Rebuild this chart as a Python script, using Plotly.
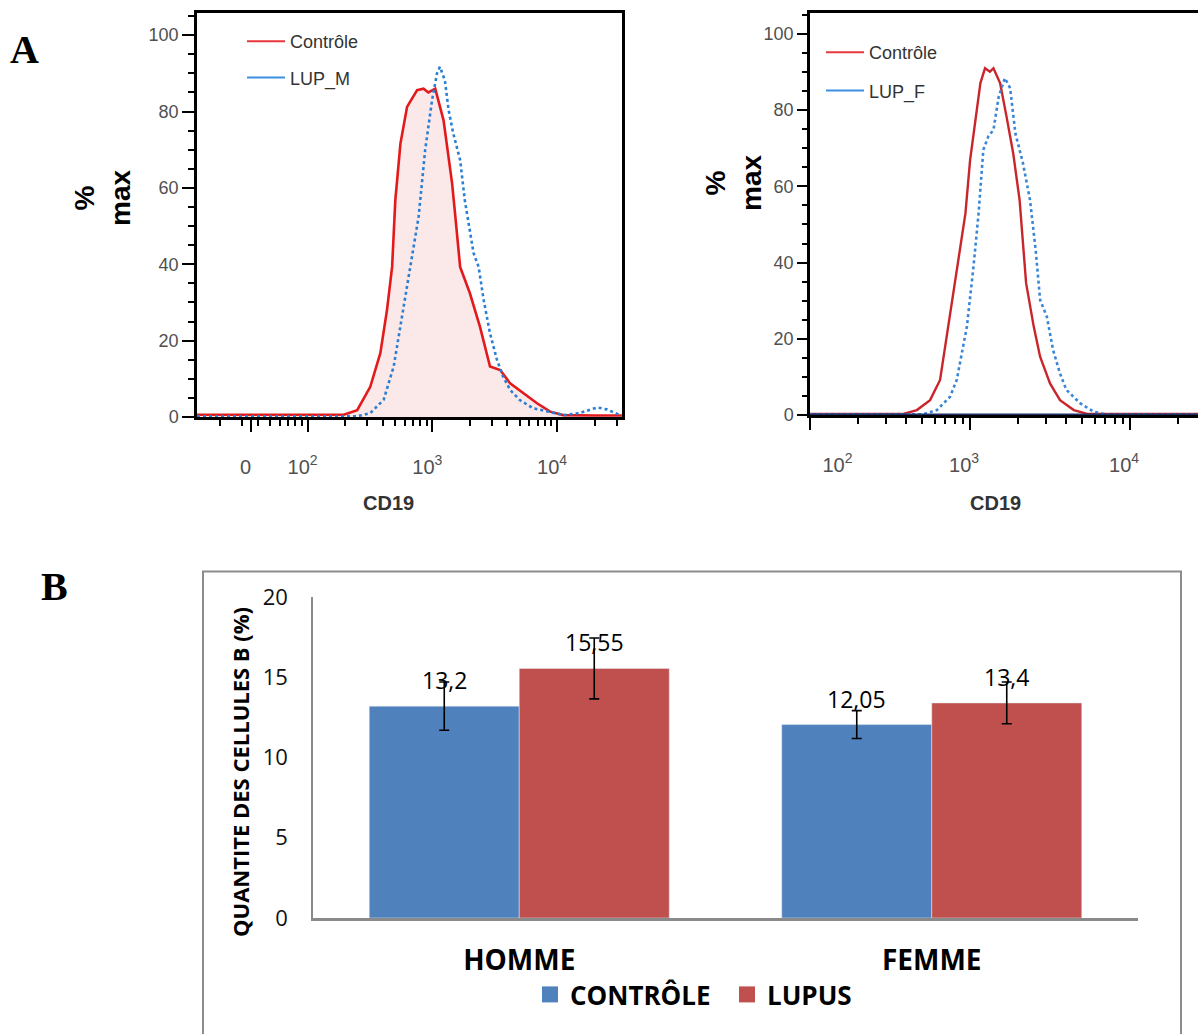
import math
import plotly.graph_objects as go

W, H = 1198, 1034

# ---------------- Panel A: CD19 histograms (% of max) ----------------
# Men: control vs LUP_M
ctrl_m_cd19 = [13, 100, 195, 250, 318, 383, 433, 476, 505, 555,
               627, 755, 850, 930, 1055, 1230, 1440, 1530, 1670, 2000,
               2410, 2900, 3500, 4200, 5350, 6900, 8800, 11200, 20000, 33000]
ctrl_m_pct = [0.6, 0.6, 0.6, 1.8, 7.9, 16.7, 28.0, 39.3, 56.8, 71.6,
              81.2, 85.6, 86.0, 85.0, 86.0, 77.7, 61.2, 52.4, 39.3, 32.4,
              23.6, 13.2, 12.3, 8.8, 6.2, 3.6, 1.4, 0.5, 0.4, 0.4]

lup_m_cd19 = [13, 100, 250, 318, 407, 490, 574, 664, 776, 876,
              995, 1090, 1150, 1260, 1350, 1470, 1670, 1820, 2000, 2140,
              2350, 2580, 2900, 3300, 3700, 4200, 5000, 6400, 8800, 11200,
              15000, 21000, 25000, 30000, 33000]
lup_m_pct = [0.2, 0.2, 0.2, 1.0, 4.5, 13.2, 26.3, 39.3, 52.4, 69.9,
             83.0, 90.0, 91.7, 88.2, 80.4, 74.3, 67.3, 56.8, 48.1, 42.9,
             39.3, 30.6, 21.9, 14.9, 10.5, 7.1, 4.5, 2.3, 1.3, 0.5,
             1.0, 2.5, 2.0, 1.0, 0.3]

# Women: control vs LUP_F
ctrl_f_cd19 = [100, 383, 465, 562, 649, 728, 825, 935, 1000, 1075,
               1160, 1240, 1330, 1400, 1540, 1690, 1860, 2040, 2240, 2500,
               2740, 3160, 3650, 4450, 5400, 27000]
ctrl_f_pct = [0.3, 0.3, 1.3, 3.9, 9.2, 23.2, 38.9, 52.9, 66.9, 77.4,
              87.1, 91.0, 90.1, 91.0, 87.1, 78.3, 68.7, 56.4, 34.6, 23.2,
              15.3, 8.3, 3.9, 1.3, 0.3, 0.3]

lup_f_cd19 = [100, 510, 620, 750, 825, 955, 1050, 1130, 1210, 1300,
              1400, 1510, 1650, 1780, 1920, 2140, 2370, 2570, 2740, 3020,
              3300, 3650, 4000, 4870, 5900, 7000, 27000]
lup_f_pct = [0.2, 0.2, 1.3, 4.8, 9.2, 23.2, 38.9, 52.9, 69.6, 73.1,
             74.8, 83.6, 88.4, 85.8, 73.9, 66.1, 56.4, 43.3, 30.2, 25.8,
             17.1, 10.9, 6.6, 3.1, 0.9, 0.2, 0.2]

hist_yticks = [0, 20, 40, 60, 80, 100]
m_xticks = [35, 100, 1000, 10000]
m_xlabels = ["0", "10<sup>2</sup>", "10<sup>3</sup>", "10<sup>4</sup>"]
f_xticks = [100, 1000, 10000]
f_xlabels = ["\u00a0" * 12 + "10<sup>2</sup>", "10<sup>3</sup>", "10<sup>4</sup>"]

# ---------------- Panel B: B-cell quantity ----------------
groups = ["HOMME", "FEMME"]
controle = [13.2, 12.05]
lupus = [15.55, 13.4]
controle_err = [1.5, 0.87]
lupus_err = [1.9, 1.3]

BLUE_BAR = "#4f81bd"
RED_BAR = "#c0504d"


def px_x(p):
    return p / W


def px_y(p):
    return 1 - p / H


def minor_log(lo, hi):
    vals = []
    for dec in range(0, 6):
        for k in range(2, 10):
            v = k * 10 ** dec
            if lo < v < hi:
                vals.append(v)
    return vals


fig = go.Figure()

# --- left histogram (men) ---
fig.add_trace(go.Scatter(
    x=ctrl_m_cd19, y=ctrl_m_pct, mode="lines", fill="tozeroy",
    fillcolor="rgba(236,150,150,0.22)", line=dict(color="#e31a1c", width=2.6),
    xaxis="x", yaxis="y", showlegend=False, hoverinfo="skip"))
fig.add_trace(go.Scatter(
    x=lup_m_cd19, y=lup_m_pct, mode="lines",
    line=dict(color="#2a7fd4", width=2.6, dash="dot"),
    xaxis="x", yaxis="y", showlegend=False, hoverinfo="skip"))

# --- right histogram (women) ---
fig.add_trace(go.Scatter(
    x=ctrl_f_cd19, y=ctrl_f_pct, mode="lines",
    line=dict(color="#c9262b", width=2.4),
    xaxis="x2", yaxis="y2", showlegend=False, hoverinfo="skip"))
fig.add_trace(go.Scatter(
    x=lup_f_cd19, y=lup_f_pct, mode="lines",
    line=dict(color="#3a86d6", width=2.6, dash="dot"),
    xaxis="x2", yaxis="y2", showlegend=False, hoverinfo="skip"))

# legend entries for histograms (solid line keys)
for name, col, lg, grp in [("Contrôle", "#e8383c", "legend", "a"),
                           ("LUP_M", "#3b8fe0", "legend", "b"),
                           ("Contrôle", "#e8383c", "legend2", "c"),
                           ("LUP_F", "#3b8fe0", "legend2", "d")]:
    fig.add_trace(go.Scatter(
        x=[None], y=[None], mode="lines", name=name,
        line=dict(color=col, width=2), legend=lg, legendgroup=grp,
        xaxis="x" if lg == "legend" else "x2",
        yaxis="y" if lg == "legend" else "y2"))

# --- bar chart ---
fig.add_trace(go.Bar(
    x=groups, y=controle, marker_color=BLUE_BAR, showlegend=False,
    error_y=dict(type="data", array=controle_err, color="black", thickness=1.6, width=5),
    xaxis="x3", yaxis="y3"))
fig.add_trace(go.Bar(
    x=groups, y=lupus, marker_color=RED_BAR, showlegend=False,
    error_y=dict(type="data", array=lupus_err, color="black", thickness=1.6, width=5),
    xaxis="x3", yaxis="y3"))
for name, col in [("CONTRÔLE", BLUE_BAR), ("LUPUS", RED_BAR)]:
    fig.add_trace(go.Scatter(
        x=[None], y=[None], mode="markers", name=name,
        marker=dict(symbol="square", size=19, color=col),
        legend="legend3", xaxis="x3", yaxis="y3"))

hist_tickfont = dict(family="Liberation Sans, Arial, sans-serif", size=18, color="#505050")
axis_common = dict(showline=True, linecolor="black", linewidth=2.5,
                   ticks="outside", tickcolor="black", tickwidth=1.5, automargin=False,
                   showgrid=False, zeroline=False, tickfont=hist_tickfont)

bargap = 0.2727

fig.update_layout(
    width=W, height=H,
    margin=dict(l=0, r=0, t=0, b=0, autoexpand=False),
    paper_bgcolor="white", plot_bgcolor="white",
    font=dict(family="Liberation Sans, Arial, sans-serif", color="#333"),
    barmode="group", bargap=bargap, bargroupgap=0,
    xaxis=dict(type="log", domain=[px_x(197), px_x(622)],
               range=[math.log10(13), 4.52], anchor="y", mirror=True,
               tickmode="array", tickvals=m_xticks, ticktext=m_xlabels, ticklen=12,
               ticklabelstandoff=18, ticklabelshift=-5,
               minor=dict(tickmode="array", tickvals=minor_log(13, 33000),
                          ticks="outside", ticklen=6, tickcolor="black", tickwidth=1.5),
               **{**axis_common, "tickfont": dict(hist_tickfont, size=20)}),
    yaxis=dict(domain=[px_y(417), px_y(13)], range=[0, 105.8], anchor="x", mirror=True,
               tickmode="array", tickvals=hist_yticks, ticklen=12,
               minor=dict(dtick=5, ticks="outside", ticklen=6, tickcolor="black", tickwidth=1.5),
               **axis_common),
    xaxis2=dict(type="log", domain=[px_x(810), 1.0], range=[1.999, 4.425], anchor="y2",
                mirror=True, tickmode="array", tickvals=f_xticks, ticktext=f_xlabels,
                ticklen=12, ticklabelstandoff=18, ticklabelshift=-6,
                minor=dict(tickmode="array", tickvals=minor_log(100, 27000),
                           ticks="outside", ticklen=6, tickcolor="black", tickwidth=1.5),
                **{**axis_common, "tickfont": dict(hist_tickfont, size=20)}),
    yaxis2=dict(domain=[px_y(415), px_y(13)], range=[0, 105.5], anchor="x2",
                tickmode="array", tickvals=hist_yticks, ticklen=10,
                minor=dict(dtick=5, ticks="outside", ticklen=5, tickcolor="black", tickwidth=1.5),
                **axis_common),
    xaxis3=dict(domain=[px_x(313), px_x(1138)], anchor="y3", showline=True, automargin=False,
                linecolor="#8a8a8a", linewidth=2.5, showgrid=False, ticks="",
                tickfont=dict(family="Open Sans, sans-serif", size=28, color="black", weight="bold"),
                ticklabelstandoff=16),
    yaxis3=dict(domain=[px_y(918), px_y(597)], range=[0, 20], dtick=5, anchor="x3",
                showline=True, linecolor="#8a8a8a", linewidth=1.5, showgrid=False,
                zeroline=False, ticks="", automargin=False,
                tickfont=dict(family="Open Sans, sans-serif", size=22, color="#111"),
                ticklabelstandoff=19),
    legend=dict(x=px_x(242), y=px_y(23), xanchor="left", yanchor="top",
                bgcolor="rgba(0,0,0,0)", traceorder="grouped", tracegroupgap=10,
                itemwidth=38, font=dict(size=18, color="#333")),
    legend2=dict(x=px_x(821), y=px_y(34), xanchor="left", yanchor="top",
                 bgcolor="rgba(0,0,0,0)", traceorder="grouped", tracegroupgap=12,
                 itemwidth=38, font=dict(size=18, color="#333")),
    legend3=dict(orientation="h", x=px_x(530), y=px_y(971), xanchor="left", yanchor="top",
                 bgcolor="rgba(0,0,0,0)", itemwidth=30, entrywidth=152,
                 font=dict(family="Open Sans, sans-serif", size=26, color="black", weight="bold")),
)

annotations = []
# panel letters
for letter, cx, cy in [("A", 24, 50), ("B", 55, 586)]:
    annotations.append(dict(text=letter, x=px_x(cx), y=px_y(cy), xref="paper", yref="paper",
                            showarrow=False, xanchor="center", yanchor="middle",
                            font=dict(family="Liberation Serif, Times New Roman, serif",
                                      size=40, color="black", weight="bold")))
# histogram axis titles
for cx, cy in [(103, 198), (733, 183)]:
    annotations.append(dict(text="%<br>max", x=px_x(cx), y=px_y(cy), xref="paper", yref="paper",
                            showarrow=False, textangle=-90, xanchor="center", yanchor="middle",
                            font=dict(size=28, color="black", weight="bold")))
for cx in [388, 995]:
    annotations.append(dict(text="CD19", x=px_x(cx), y=px_y(503), xref="paper", yref="paper",
                            showarrow=False, xanchor="center", yanchor="middle",
                            font=dict(size=20, color="#333", weight="bold")))
# bar chart y title
annotations.append(dict(text="QUANTITE DES CELLULES B (%)", x=px_x(240), y=px_y(772),
                        xref="paper", yref="paper", showarrow=False, textangle=-90,
                        xanchor="center", yanchor="middle",
                        font=dict(family="Open Sans, sans-serif", size=22, color="black",
                                  weight="bold")))
# value labels above bars
off = (1 - bargap) / 4
for i, (vc, vl) in enumerate(zip(controle, lupus)):
    for xpos, v in [(i - off, vc), (i + off, vl)]:
        annotations.append(dict(text=f"{v:g}".replace(".", ","), x=xpos, y=v,
                                xref="x3", yref="y3", showarrow=False, yshift=26,
                                xanchor="center", yanchor="middle",
                                font=dict(family="Open Sans, sans-serif", size=23, color="black")))
fig.update_layout(annotations=annotations)

# dark baseline of the overlaid LUP_F histogram
fig.add_shape(type="line", xref="x2 domain", yref="y2", x0=0, x1=1, y0=0, y1=0,
              line=dict(color="#1d2f66", width=3))

# frame around panel B
fig.add_shape(type="rect", xref="paper", yref="paper",
              x0=px_x(203), x1=px_x(1181), y0=-0.02, y1=px_y(571.5),
              line=dict(color="#8c8c8c", width=2), fillcolor="rgba(0,0,0,0)", layer="below")

fig.write_html("out.html")
